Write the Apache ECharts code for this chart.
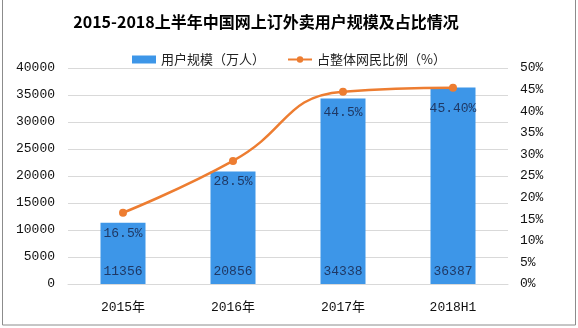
<!DOCTYPE html>
<html>
<head>
<meta charset="utf-8">
<script src="https://cdn.jsdelivr.net/npm/echarts@6/dist/echarts.min.js"></script>
<style>
  html, body { margin: 0; padding: 0; background: #fff; }
  #chart { width: 578px; height: 328px; }
</style>
</head>
<body>
<div id="chart"></div>
<script>
// Online food-delivery users in China, 2015 – H1 2018
const categories = ['2015年', '2016年', '2017年', '2018H1'];
const users = [11356, 20856, 34338, 36387];           // 万人
const share = [16.5, 28.5, 44.5, 45.4];               // % of all netizens
const shareLabels = ['16.5%', '28.5%', '44.5%', '45.40%'];
const userTicks = { min: 0, max: 40000, interval: 5000 };
const shareTicks = { min: 0, max: 50, interval: 5 };

const MONO = '"Liberation Mono", "Noto Sans CJK SC", monospace';
const CJK = '"Noto Sans CJK SC", "Liberation Mono", sans-serif';
const BLUE = '#3d96e8';
const ORANGE = '#ed7d31';
const NAVY = '#1f3864';

const chart = echarts.init(document.getElementById('chart'), null, { renderer: 'canvas' });

chart.setOption({
  animation: false,
  backgroundColor: '#fff',
  title: {
    text: '2015-2018上半年中国网上订外卖用户规模及占比情况',
    left: 261, top: 9, textAlign: 'center',
    textStyle: { fontFamily: CJK, fontSize: 16, fontWeight: 'bold', color: '#000' }
  },
  legend: {
    top: 48, left: 'center',
    itemGap: 22,
    textStyle: { fontFamily: CJK, fontSize: 13, color: '#222' },
    data: [
      { name: '用户规模（万人）', icon: 'rect', itemStyle: { color: BLUE } },
      { name: '占整体网民比例（%）' }
    ],
    itemWidth: 24, itemHeight: 8
  },
  grid: { left: 68, right: 70, top: 68, bottom: 44, containLabel: false },
  xAxis: {
    type: 'category',
    data: categories,
    axisLine: { show: true, lineStyle: { color: '#d9d9d9' } },
    axisTick: { show: false },
    axisLabel: { fontFamily: MONO, fontSize: 13, color: '#111', margin: 17 }
  },
  yAxis: [
    {
      type: 'value', ...userTicks,
      axisLine: { show: false }, axisTick: { show: false },
      splitLine: { lineStyle: { color: '#d9d9d9' } },
      axisLabel: {
        fontFamily: MONO, fontSize: 13, color: '#111', margin: 13,
        formatter: v => String(v)
      }
    },
    {
      type: 'value', ...shareTicks,
      axisLine: { show: false }, axisTick: { show: false },
      splitLine: { show: false },
      axisLabel: { fontFamily: MONO, fontSize: 13, color: '#111', margin: 12, formatter: '{value}%' }
    }
  ],
  series: [
    {
      name: '用户规模（万人）',
      type: 'bar',
      data: users,
      barWidth: 45,
      itemStyle: { color: BLUE },
      label: {
        show: true, position: 'insideBottom', distance: 6,
        fontFamily: MONO, fontSize: 13, color: NAVY
      }
    },
    {
      name: '占整体网民比例（%）',
      type: 'line',
      yAxisIndex: 1,
      data: share,
      smooth: 0.5,
      symbol: 'circle', symbolSize: 8,
      lineStyle: { color: ORANGE, width: 2.5 },
      itemStyle: { color: ORANGE },
      label: {
        show: true, position: 'bottom', distance: 10,
        fontFamily: MONO, fontSize: 13, color: NAVY,
        formatter: p => shareLabels[p.dataIndex]
      },
      z: 5
    }
  ],
  graphic: [
    {
      type: 'rect', silent: true,
      shape: { x: 2.5, y: -2, width: 573, height: 327 },
      style: { fill: 'none', stroke: '#8c8c8c', lineWidth: 1 }
    }
  ]
});
</script>
</body>
</html>
